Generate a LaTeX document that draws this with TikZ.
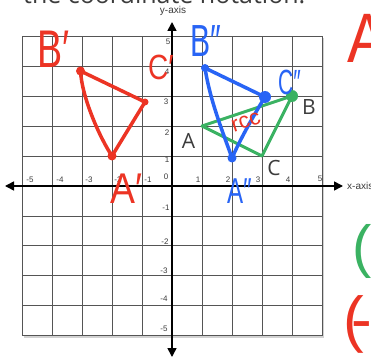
\documentclass[tikz,border=0pt]{standalone}
\usepackage{fontspec}
\setmainfont{Liberation Sans}
\newfontfamily\osans{Open Sans}
\usetikzlibrary{arrows.meta}
\definecolor{hred}{RGB}{236,52,36}
\definecolor{hblue}{RGB}{40,100,245}
\definecolor{hgreen}{RGB}{58,178,98}
\definecolor{gridc}{RGB}{85,85,85}
\definecolor{txtc}{RGB}{60,60,60}
\tikzset{
  gridline/.style={draw=gridc, line width=0.8pt},
  axisline/.style={draw=black, line width=1.6pt, {Triangle[length=9pt,width=9pt]}-{Triangle[length=9pt,width=9pt]}},
  ticklab/.style={font=\fontsize{8}{9}\selectfont, text=txtc, inner sep=0},
  axlab/.style={font=\fontsize{10}{11}\selectfont, text=txtc, inner sep=0},
  hand/.style={inner sep=0, anchor=base west},
  bigletter/.style={font=\osans\fontsize{21}{24}\selectfont, text=txtc, inner sep=0, anchor=base},
  redtri/.style={draw=hred, line width=3.5pt, line cap=round, line join=round},
  bluetri/.style={draw=hblue, line width=3.5pt, line cap=round, line join=round},
  greentri/.style={draw=hgreen, line width=3pt, line cap=round, line join=round}
}
\begin{document}
\begin{tikzpicture}[x=1pt,y=-1pt]
\useasboundingbox (0,0) rectangle (371,358);
\clip (0,0) rectangle (371,358);
\fill[white] (0,0) rectangle (371,358);

% title (cut off at top)
\node[font=\osans\fontsize{25}{30}\selectfont, text=txtc, anchor=base west, inner sep=0] (title) at (23,4) {the coordinate notation.};

% grid
\begin{scope}[shift={(172,186)}, x=30pt, y=29.9pt]
  \draw[gray!35, line width=1.4pt] (-4.95,-5.05) -- (5.05,-5.05) -- (5.05,4.95);
  \draw[gridline, step=1] (-5,-5) grid (5,5);
  \draw[gridline] (-5,-5) rectangle (5,5);
\end{scope}

% tick labels x
\node[ticklab] (xm5) at (30,180) {-5};
\node[ticklab] (xm4) at (60,180) {-4};
\node[ticklab] (xm3) at (89,180) {-3};
\node[ticklab] (xm2) at (118,180) {-2};
\node[ticklab] (xm1) at (148,180) {-1};
\node[ticklab] (x0) at (166,177) {0};
\node[ticklab] (x1) at (198,180) {1};
\node[ticklab] (x2) at (228,180) {2};
\node[ticklab] (x3) at (258,180) {3};
\node[ticklab] (x4) at (288,180) {4};
\node[ticklab] (x5) at (320,179) {5};
% tick labels y
\node[ticklab] (y5) at (168,42) {5};
\node[ticklab] (y4) at (167,72) {4};
\node[ticklab] (y3) at (166,102) {3};
\node[ticklab] (y2) at (167,133) {2};
\node[ticklab] (y1) at (167,160) {1};
\node[ticklab] (ym1) at (166,208) {-1};
\node[ticklab] (ym2) at (165,242) {-2};
\node[ticklab] (ym3) at (164,271) {-3};
\node[ticklab] (ym4) at (164,299) {-4};
\node[ticklab] (ym5) at (164,329) {-5};

% axes
\coordinate (xl) at (5,186);
\coordinate (xr) at (343,186);
\coordinate (yt) at (172,22);
\coordinate (yb) at (172,357);
\draw[axisline] (xl) -- (xr);
\draw[axisline] (yb) -- (yt);
\node[axlab, anchor=west] (xaxis) at (347,186) {x-axis};
\node[axlab] (yaxis) at (173,11) {y-axis};

% green triangle ABC
\coordinate (gA) at (202,126);
\coordinate (gB) at (292,96);
\coordinate (gC) at (262,156);
\draw[greentri] (gA) -- (gB) -- (gC) -- cycle;
\fill[hgreen] (gB) circle[radius=6pt];

% blue triangle
\coordinate (bB) at (205,68);
\coordinate (bC) at (265,97);
\coordinate (bA) at (232,158);
\draw[bluetri] (bB) -- (bC);
\draw[bluetri] (bB) .. controls (210,100) and (222,130) .. (bA);
\draw[bluetri] (bC) .. controls (252,118) and (240,140) .. (bA);
\fill[hblue] (bB) circle[radius=4pt];
\fill[hblue] (bC) circle[radius=6pt];
\fill[hblue] (bA) circle[radius=4.5pt];

% red triangle
\coordinate (rB) at (80.5,71);
\coordinate (rA) at (112,156);
\coordinate (rC) at (145,102);
\draw[redtri] (rB) .. controls (82,98) and (100,138) .. (rA) -- (rC) -- (rB);
\fill[hred] (rB) circle[radius=4.5pt];
\fill[hred] (rA) circle[radius=4.5pt];
\fill[hred] (rC) circle[radius=3.5pt];

% printed labels
\node[bigletter] (lA) at (188.5,148) {A};
\node[bigletter] (lB) at (309,115) {B};
\node[bigletter] (lC) at (274,175) {C};

% handwritten labels
\node[hand, text=hred, font=\fontsize{53}{60}\selectfont, xscale=0.71] (hBp) at (37,68) {B′};
\node[hand, text=hred, font=\fontsize{35}{40}\selectfont, xscale=0.8] (hCp) at (148,80) {C′};
\node[hand, text=hred, font=\fontsize{43}{48}\selectfont, xscale=0.87] (hAp) at (110,203) {A′};
\node[hand, text=hblue, font=\fontsize{45}{50}\selectfont, xscale=0.67] (hBpp) at (190,57) {B″};
\node[hand, text=hblue, font=\fontsize{35}{40}\selectfont, xscale=0.6] (hCpp) at (278,95) {C″};
\node[hand, text=hblue, font=\fontsize{36}{40}\selectfont, xscale=0.67] (hApp) at (227,203) {A″};
\node[text=hred, font=\fontsize{22}{24}\selectfont, inner sep=0, rotate=18] (rcc) at (246,122) {rcc};
\node[hand, text=hred, font=\fontsize{70}{80}\selectfont, xscale=0.85] (bigA) at (347,63) {A};
\node[hand, text=hgreen, font=\fontsize{58}{64}\selectfont] (gpar) at (352,266) {(};
\node[hand, text=hred, font=\fontsize{62}{70}\selectfont] (rpar) at (343,340) {(\kern-12pt-};
\end{tikzpicture}
\end{document}
